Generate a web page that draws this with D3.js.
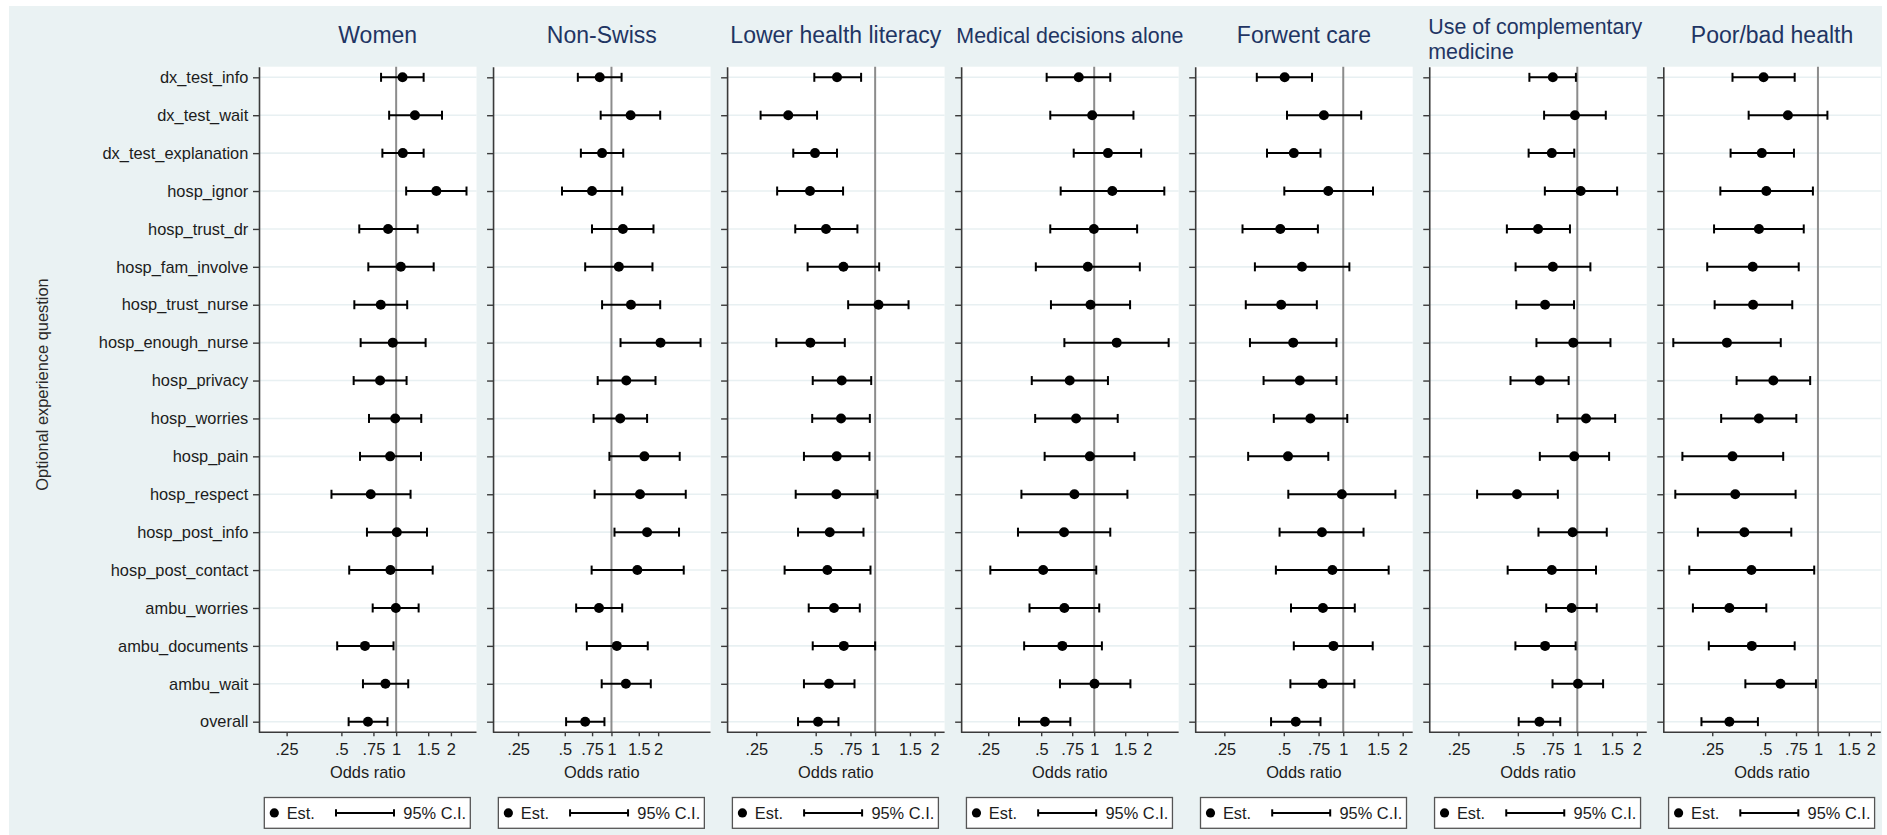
<!DOCTYPE html>
<html>
<head>
<meta charset="utf-8">
<script src="https://cdn.jsdelivr.net/npm/d3@7"></script>
<style>
  html, body { margin: 0; padding: 0; background: #ffffff; }
  svg { display: block; font-family: "Liberation Sans", Arial, Helvetica, sans-serif; }
</style>
</head>
<body>
<svg id="chart" width="1887" height="835"></svg>
<script>
// Optional experience questions (rows, top to bottom)
const questions = [
  "dx_test_info", "dx_test_wait", "dx_test_explanation", "hosp_ignor",
  "hosp_trust_dr", "hosp_fam_involve", "hosp_trust_nurse", "hosp_enough_nurse",
  "hosp_privacy", "hosp_worries", "hosp_pain", "hosp_respect",
  "hosp_post_info", "hosp_post_contact", "ambu_worries", "ambu_documents",
  "ambu_wait", "overall"
];

// Odds ratios per question: [lower 95% CI, estimate, upper 95% CI]
const women = [
  [0.826, 1.084, 1.416], [0.915, 1.268, 1.787], [0.840, 1.088, 1.416], [1.135, 1.663, 2.436],
  [0.627, 0.903, 1.312], [0.703, 1.061, 1.608], [0.589, 0.823, 1.150], [0.638, 0.958, 1.452],
  [0.584, 0.816, 1.141], [0.709, 0.988, 1.374], [0.633, 0.927, 1.369], [0.441, 0.725, 1.200],
  [0.691, 1.008, 1.477], [0.552, 0.930, 1.588], [0.743, 0.996, 1.329], [0.474, 0.674, 0.967],
  [0.657, 0.873, 1.165], [0.548, 0.700, 0.896]
];
const nonSwiss = [
  [0.607, 0.840, 1.162], [0.852, 1.329, 2.062], [0.635, 0.870, 1.191], [0.480, 0.749, 1.173],
  [0.749, 1.185, 1.866], [0.677, 1.116, 1.838], [0.870, 1.336, 2.062], [1.144, 2.072, 3.753],
  [0.815, 1.246, 1.923], [0.767, 1.139, 1.697], [0.970, 1.631, 2.754], [0.779, 1.528, 3.013],
  [1.046, 1.697, 2.727], [0.745, 1.468, 2.924], [0.592, 0.831, 1.173], [0.694, 1.083, 1.714],
  [0.865, 1.239, 1.793], [0.510, 0.677, 0.901]
];
const lowerHealthLiteracy = [
  [0.492, 0.641, 0.849], [0.263, 0.363, 0.508], [0.385, 0.496, 0.641], [0.319, 0.468, 0.688],
  [0.394, 0.564, 0.813], [0.455, 0.691, 1.048], [0.730, 1.040, 1.476], [0.316, 0.470, 0.702],
  [0.483, 0.677, 0.955], [0.480, 0.672, 0.940], [0.436, 0.639, 0.936], [0.396, 0.636, 1.027],
  [0.407, 0.589, 0.873], [0.348, 0.573, 0.947], [0.461, 0.619, 0.836], [0.483, 0.694, 1.000],
  [0.436, 0.584, 0.786], [0.407, 0.514, 0.652]
];
const decisionsAlone = [
  [0.537, 0.817, 1.234], [0.563, 0.974, 1.671], [0.765, 1.197, 1.848], [0.645, 1.267, 2.502],
  [0.563, 0.996, 1.753], [0.466, 0.920, 1.816], [0.568, 0.953, 1.599], [0.677, 1.342, 2.648],
  [0.442, 0.726, 1.197], [0.462, 0.789, 1.360], [0.523, 0.945, 1.693], [0.386, 0.772, 1.544],
  [0.369, 0.674, 1.234], [0.257, 0.513, 1.027], [0.429, 0.677, 1.068], [0.400, 0.659, 1.106],
  [0.639, 1.004, 1.606], [0.374, 0.525, 0.732]
];
const forwentCare = [
  [0.365, 0.505, 0.695], [0.519, 0.798, 1.233], [0.411, 0.562, 0.767], [0.503, 0.840, 1.415],
  [0.309, 0.480, 0.744], [0.357, 0.618, 1.074], [0.321, 0.485, 0.735], [0.337, 0.558, 0.924],
  [0.395, 0.603, 0.924], [0.445, 0.682, 1.048], [0.330, 0.525, 0.840], [0.527, 0.984, 1.837],
  [0.476, 0.780, 1.267], [0.456, 0.881, 1.698], [0.544, 0.789, 1.144], [0.562, 0.892, 1.410],
  [0.540, 0.786, 1.139], [0.431, 0.575, 0.767]
];
const complementaryMedicine = [
  [0.572, 0.752, 0.984], [0.679, 0.973, 1.394], [0.567, 0.743, 0.965], [0.685, 1.040, 1.591],
  [0.440, 0.633, 0.918], [0.487, 0.752, 1.165], [0.491, 0.687, 0.962], [0.621, 0.954, 1.472],
  [0.459, 0.646, 0.904], [0.794, 1.107, 1.555], [0.646, 0.965, 1.449], [0.311, 0.495, 0.797],
  [0.636, 0.947, 1.410], [0.444, 0.743, 1.244], [0.696, 0.936, 1.254], [0.486, 0.687, 0.981],
  [0.749, 1.008, 1.351], [0.505, 0.643, 0.820]
];
const poorHealth = [
  [0.326, 0.490, 0.737], [0.403, 0.674, 1.132], [0.318, 0.479, 0.730], [0.278, 0.508, 0.936],
  [0.256, 0.461, 0.830], [0.234, 0.425, 0.777], [0.258, 0.427, 0.714], [0.150, 0.303, 0.614],
  [0.344, 0.557, 0.903], [0.281, 0.461, 0.753], [0.169, 0.326, 0.634], [0.154, 0.338, 0.746],
  [0.207, 0.381, 0.705], [0.185, 0.418, 0.952], [0.194, 0.313, 0.508], [0.239, 0.420, 0.737],
  [0.386, 0.612, 0.974], [0.217, 0.313, 0.455]
];

// Panel titles (lines) and the series each panel shows
const panelTitles = [
  ["Women"], ["Non-Swiss"], ["Lower health literacy"], ["Medical decisions alone"],
  ["Forwent care"], ["Use of complementary", "medicine"], ["Poor/bad health"]
];
const panelSeries = [women, nonSwiss, lowerHealthLiteracy, decisionsAlone, forwentCare, complementaryMedicine, poorHealth];

// Log-axis ticks
const xTickValues = [0.25, 0.5, 0.75, 1, 1.5, 2];
const xTickLabels = [".25", ".5", ".75", "1", "1.5", "2"];

const xTitle = "Odds ratio";
const yTitle = "Optional experience question";
const legendEst = "Est.";
const legendCI = "95% C.I.";

// ---- layout ----
const svg = d3.select("#chart");
const bg = "#eaf2f3";
const ink = "#1c1c1c";
const titleColor = "#1f3563";
const plotTop = 66.7, plotBottom = 732.3;
const firstLeft = 259, panelStep = 234.05, plotW = 217.5, innerPad = 10;

svg.append("rect").attr("x", 9).attr("y", 6).attr("width", 1873).attr("height", 829).attr("fill", bg);

const y = d3.scalePoint().domain(questions).range([plotTop, plotBottom]).padding(0.28);

// y-axis title
svg.append("text")
  .attr("transform", "translate(42.7,384.5) rotate(-90)")
  .attr("text-anchor", "middle").attr("dy", "0.35em")
  .attr("font-size", 16.4).attr("fill", "#2a2a2a")
  .text(yTitle);

panelSeries.forEach((series, i) => {
  const L = firstLeft + i * panelStep, R = L + plotW;
  const lo = d3.min(series, d => d[0]);
  const hi = d3.max(series, d => d[2]);
  const x = d3.scaleLog().domain([Math.min(0.2, lo), Math.max(2, hi)]).range([L + innerPad, R - innerPad]);

  const g = svg.append("g");

  // plot region
  g.append("rect").attr("x", L).attr("y", plotTop).attr("width", plotW).attr("height", plotBottom - plotTop).attr("fill", "#ffffff");

  // row grid lines
  g.append("g").selectAll("line").data(questions).join("line")
    .attr("x1", L).attr("x2", R).attr("y1", d => y(d)).attr("y2", d => y(d))
    .attr("stroke", "#e8f0f2").attr("stroke-width", 1.6);

  // reference line at OR = 1
  g.append("line").attr("x1", x(1)).attr("x2", x(1)).attr("y1", plotTop).attr("y2", plotBottom)
    .attr("stroke", "#8c8c8c").attr("stroke-width", 2);

  // y axis
  const yAxis = g.append("g").attr("transform", `translate(${L},0)`)
    .call(d3.axisLeft(y).tickSize(6).tickSizeOuter(0).tickPadding(4.7)
      .tickFormat(i === 0 ? (d => d) : () => ""));
  yAxis.select(".domain").attr("stroke", "#3a3a3a").attr("stroke-width", 1.6);
  yAxis.selectAll(".tick line").attr("stroke", "#3a3a3a").attr("stroke-width", 1.4);
  yAxis.selectAll(".tick text").attr("font-size", 16.4).attr("fill", ink)
    .attr("font-family", "'Liberation Sans', Arial, sans-serif");

  // x axis
  const xAxis = g.append("g").attr("transform", `translate(0,${plotBottom})`)
    .call(d3.axisBottom(x).tickValues(xTickValues).tickSize(4).tickPadding(7.3)
      .tickFormat((d, k) => xTickLabels[k]));
  xAxis.select(".domain").remove();
  xAxis.selectAll(".tick line").attr("stroke", "#3a3a3a").attr("stroke-width", 1.4);
  xAxis.selectAll(".tick text").attr("font-size", 16.4).attr("fill", ink)
    .attr("font-family", "'Liberation Sans', Arial, sans-serif");
  g.append("line").attr("x1", L).attr("x2", R).attr("y1", plotBottom).attr("y2", plotBottom)
    .attr("stroke", "#3a3a3a").attr("stroke-width", 1.6);

  // x-axis title
  g.append("text").attr("x", (L + R) / 2).attr("y", 778.3).attr("text-anchor", "middle")
    .attr("font-size", 16.4).attr("fill", ink).text(xTitle);

  // confidence intervals
  const rows = g.append("g").selectAll("g").data(series).join("g")
    .attr("transform", (d, k) => `translate(0,${y(questions[k])})`);
  rows.append("line").attr("x1", d => x(d[0])).attr("x2", d => x(d[2])).attr("y1", 0).attr("y2", 0)
    .attr("stroke", "#000").attr("stroke-width", 2);
  rows.append("line").attr("x1", d => x(d[0])).attr("x2", d => x(d[0])).attr("y1", -4.5).attr("y2", 4.5)
    .attr("stroke", "#000").attr("stroke-width", 2);
  rows.append("line").attr("x1", d => x(d[2])).attr("x2", d => x(d[2])).attr("y1", -4.5).attr("y2", 4.5)
    .attr("stroke", "#000").attr("stroke-width", 2);
  // point estimates
  rows.append("circle").attr("cx", d => x(d[1])).attr("cy", 0).attr("r", 5).attr("fill", "#000");

  // panel title
  const lines = panelTitles[i];
  const longTitle = lines.join(" ").length > 21;
  const tSize = longTitle ? 21.4 : 23;
  if (lines.length === 1) {
    // the first panel's title sits a little right of its plot centre
    const cx = (L + R) / 2 + (i === 0 ? 10 : 0);
    g.append("text").attr("x", cx).attr("y", 43.4).attr("text-anchor", "middle")
      .attr("font-size", tSize).attr("fill", titleColor).text(lines[0]);
  } else {
    lines.forEach((ln, k) => {
      g.append("text").attr("x", L - 1).attr("y", 34 + k * 25).attr("text-anchor", "start")
        .attr("font-size", tSize).attr("fill", titleColor).text(ln);
    });
  }

  // legend
  const lx = L + 5.3, ly = 797.5, lw = 206, lh = 30.8, lc = ly + lh / 2;
  const lg = g.append("g");
  lg.append("rect").attr("x", lx).attr("y", ly).attr("width", lw).attr("height", lh)
    .attr("fill", "#ffffff").attr("stroke", "#555555").attr("stroke-width", 1.3);
  lg.append("circle").attr("cx", lx + 10).attr("cy", lc).attr("r", 4.6).attr("fill", "#000");
  lg.append("text").attr("x", lx + 22.4).attr("y", lc + 5.9).attr("font-size", 16.4).attr("fill", ink).text(legendEst);
  lg.append("line").attr("x1", lx + 71.7).attr("x2", lx + 129.7).attr("y1", lc).attr("y2", lc)
    .attr("stroke", "#000").attr("stroke-width", 2);
  [lx + 71.7, lx + 129.7].forEach(px => {
    lg.append("line").attr("x1", px).attr("x2", px).attr("y1", lc - 3.6).attr("y2", lc + 3.6)
      .attr("stroke", "#000").attr("stroke-width", 2);
  });
  lg.append("text").attr("x", lx + 139).attr("y", lc + 5.9).attr("font-size", 16.4).attr("fill", ink).text(legendCI);
});
</script>
</body>
</html>
